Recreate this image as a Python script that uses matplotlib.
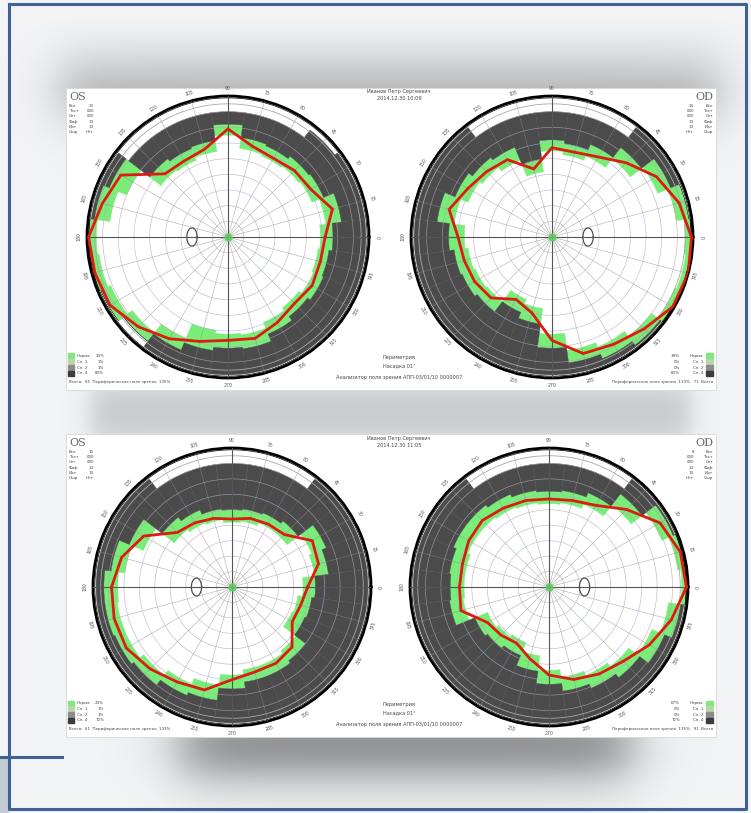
import numpy as np
import matplotlib
matplotlib.use("Agg")
import matplotlib.pyplot as plt
from matplotlib.patches import Rectangle

W, H, DPI = 751, 813, 100

# ---------------- data (radius in degrees of visual field, meridians every 15 deg) ----------------
meridians = np.arange(0, 360, 15)

# chart 1: OS, 2014.12.30 10:09
os1_red   = [62, 69, 61, 60, 58, 60, 69, 58, 56, 57, 79, 83, 89, 88, 87, 81, 75, 69, 66, 67, 63, 60, 62, 61]
os1_g_in  = [59, 63, 58, 57, 56, 57, 65, 55, 53, 54, 70, 76, 84, 83, 81, 77, 70, 60, 62, 63, 59, 57, 59, 58]
os1_g_out = [67, 73, 66, 65, 63, 64, 72, 62, 61, 63, 82, 86, 89, 89, 88, 84, 78, 73, 71, 72, 67, 64, 66, 65]
os1_d_out = [88, 88, 88, 86, 80, 80, 80, 80, 80, 80, 88, 88, 89, 89, 88, 84, 88, 88, 88, 88, 88, 88, 88, 88]

# chart 2: OD, 2014.12.30 10:09
od1_red   = [89, 84, 77, 67, 59, 56, 57, 45, 57, 59, 62, 68, 60, 58, 57, 55, 46, 50, 66, 77, 79, 83, 89, 90]
od1_g_in  = [85, 80, 73, 63, 56, 53, 55, 42, 53, 56, 58, 63, 56, 54, 53, 52, 43, 46, 62, 73, 76, 80, 85, 86]
od1_g_out = [89, 88, 82, 72, 64, 60, 62, 50, 62, 64, 67, 74, 66, 63, 62, 60, 52, 56, 71, 81, 84, 87, 89, 89]
od1_d_out = [89, 88, 88, 88, 80, 80, 80, 80, 80, 88, 88, 88, 88, 88, 88, 88, 88, 88, 88, 88, 88, 88, 89, 89]

# chart 3: OS, 2014.12.30 11:05
os2_red   = [49, 58, 60, 48, 47, 46, 44, 46, 48, 50, 66, 74, 78, 79, 79, 75, 71, 69, 60, 57, 57, 55, 45, 46]
os2_g_in  = [46, 54, 56, 45, 45, 43, 42, 44, 45, 47, 62, 70, 74, 75, 75, 72, 68, 64, 57, 54, 54, 52, 42, 43]
os2_g_out = [54, 63, 66, 54, 52, 51, 50, 51, 54, 57, 72, 79, 83, 83, 82, 80, 76, 74, 66, 62, 62, 60, 51, 52]
os2_d_out = [88, 88, 88, 88, 80, 80, 80, 80, 80, 88, 88, 88, 88, 88, 88, 88, 88, 88, 88, 88, 88, 88, 88, 88]

# chart 4: OD, 2014.12.30 11:05
od2_red   = [89, 88, 83, 71, 61, 58, 57, 58, 59, 61, 60, 58, 58, 59, 46, 44, 42, 48, 57, 62, 65, 68, 75, 82]
od2_g_in  = [86, 84, 79, 67, 58, 55, 54, 55, 56, 57, 57, 55, 55, 56, 43, 41, 39, 45, 54, 59, 62, 65, 72, 78]
od2_g_out = [89, 89, 87, 76, 66, 63, 62, 63, 65, 67, 67, 65, 64, 65, 52, 50, 48, 55, 63, 68, 71, 74, 81, 86]
od2_d_out = [89, 89, 88, 88, 80, 80, 80, 80, 80, 88, 88, 88, 88, 88, 88, 88, 88, 88, 88, 88, 88, 88, 88, 88]

blind_os = (180, 23)   # (meridian, eccentricity)
blind_od = (0, 23)

patient = "Иванов Петр Сергеевич"
dates = ["2014.12.30 10:09", "2014.12.30 11:05"]
stat_names = ["Все", "Тест", "Сет", "Фиф", "Идт", "Ошр"]
stats_os = [["13", "000", "000", "13", "13", "Нет"], ["10", "000", "000", "13", "13", "Нет"]]
stats_od = [["14", "000", "000", "13", "13", "Нет"], ["8", "000", "000", "13", "13", "Нет"]]
legend_names = ["Норма", "Сн. 1", "Сн. 2", "Сн. 4"]
legend_os = [["10%", "1%", "1%", "80%"], ["23%", "1%", "1%", "72%"]]
legend_od = [["39%", "0%", "0%", "60%"], ["67%", "0%", "0%", "72%"]]
total_os = [("65", "135%"), ("61", "133%")]
total_od = [("71", "133%"), ("91", "135%")]
bottom_lines = ["Периметрия", "Насадка 01°", "Анализатор поля зрения АПП-03/01/10 0000007"]

# ---------------- styles ----------------
DARK = "#4b4b4b"
GREEN = "#78ee78"
RED = "#dd1b10"
LEG_COLORS = ["#7fe87f", "#b9d6a8", "#8c8c8c", "#3c3c3c"]
FONT = ["DejaVu Sans"]
TINY = 3.3

fig = plt.figure(figsize=(W / DPI, H / DPI), dpi=DPI)
bg = fig.add_axes([0, 0, 1, 1])
bg.set_xlim(0, W)
bg.set_ylim(H, 0)
bg.axis("off")

# background with soft shadows
yy, xx = np.mgrid[0:H, 0:W].astype(float)


def soft(x0, x1, y0, y1, b):
    sx = 0.25 * (np.tanh((xx - x0) / b) + 1) * (np.tanh((x1 - xx) / b) + 1)
    sy = 0.25 * (np.tanh((yy - y0) / b) + 1) * (np.tanh((y1 - yy) / b) + 1)
    return sx * sy


shade = (0.955
         - 0.24 * soft(60, 720, 20, 120, 28) * np.clip((yy - 12) / 76, 0, 1) ** 1.5
         - 0.16 * soft(90, 690, 385, 440, 14)
         - 0.55 * soft(180, 630, 720, 768, 32))
img = np.dstack([shade * 0.995, shade, shade * 1.01])
bg.imshow(np.clip(img, 0, 1), extent=(0, W, H, 0), aspect="auto", zorder=0)

# outer frame
bg.add_patch(Rectangle((0, 758), 8, 55, color="#c4cad1", zorder=1))
bg.plot([9, 746, 746, 9, 9], [4, 4, 809, 809, 4], color="#3f6293", lw=2.2, zorder=2)
bg.plot([0, 62], [757, 757], color="#3f6293", lw=2.2, zorder=2)

panels = [(66, 88, 650, 302), (66, 434, 650, 303)]
for (px, py, pw, ph) in panels:
    bg.add_patch(Rectangle((px, py), pw, ph, facecolor="white", edgecolor="#d8d8d8", lw=0.6, zorder=3))

charts = [
    dict(cx=228, cy=237, R=141, red=os1_red, gi=os1_g_in, go=os1_g_out, do=os1_d_out, blind=blind_os),
    dict(cx=552, cy=237, R=141, red=od1_red, gi=od1_g_in, go=od1_g_out, do=od1_d_out, blind=blind_od),
    dict(cx=232, cy=587, R=139, red=os2_red, gi=os2_g_in, go=os2_g_out, do=os2_d_out, blind=blind_os),
    dict(cx=549, cy=587, R=139, red=od2_red, gi=od2_g_in, go=od2_g_out, do=od2_d_out, blind=blind_od),
]

th = np.deg2rad(meridians)
width = np.deg2rad(15)
circ = np.linspace(0, 2 * np.pi, 361)

for c in charts:
    l = (c["cx"] - c["R"]) / W
    b = (H - c["cy"] - c["R"]) / H
    ax = fig.add_axes([l, b, 2 * c["R"] / W, 2 * c["R"] / H], projection="polar")
    ax.set_facecolor("white")
    ax.set_ylim(0, 90)
    ax.set_xticks(th)
    ax.set_xticklabels([])
    ax.set_yticks([])
    ax.set_axisbelow(False)
    ax.xaxis.grid(True, color="#8c8c8c", lw=0.4, alpha=0.7)
    ax.spines["polar"].set_linewidth(2.0)
    ax.spines["polar"].set_color("black")

    gi = np.array(c["gi"]); go = np.array(c["go"]); do = np.array(c["do"])
    ax.bar(th, go - gi, width=width, bottom=gi, color=GREEN, edgecolor=GREEN, lw=0.3, zorder=1.5)
    ax.bar(th, do - go, width=width, bottom=go, color=DARK, edgecolor=DARK, lw=0.3, zorder=1.6)

    for rr in range(10, 90, 10):
        col = "#9fb6d6" if rr in (30, 60) else "#b9a2b4"
        ax.plot(circ, np.full_like(circ, rr), color=col, lw=0.45, alpha=0.8, zorder=2.6)
    ax.plot(circ, np.full_like(circ, 85), color="#a8a8a8", lw=0.6, zorder=2.6)
    ax.plot(circ, np.full_like(circ, 88.8), color="black", lw=0.5, zorder=2.6)

    for a in (0, 90, 180, 270):
        ax.plot([np.deg2rad(a)] * 2, [0, 90], color="#555555", lw=0.8, zorder=2.8)

    red = list(c["red"]) + [c["red"][0]]
    ax.plot(list(th) + [th[0]], red, color=RED, lw=2.0, zorder=5, solid_joinstyle="miter")

    # blind spot
    bm, br = c["blind"]
    t = np.linspace(0, 2 * np.pi, 80)
    ex = br * np.cos(np.deg2rad(bm)) + 3.3 * np.cos(t)
    ey = 5.8 * np.sin(t)
    ax.plot(np.arctan2(ey, ex), np.hypot(ex, ey), color="#505050", lw=0.9, zorder=4)
    ax.plot([0], [0], "o", color="#5fcf5f", ms=5, alpha=0.8, zorder=4)

    for d in meridians:
        rot = d - 90 if d <= 180 else d - 270
        ax.text(np.deg2rad(d), 95, str(d), fontsize=TINY, color="#555555", rotation=rot,
                ha="center", va="center", family=FONT, clip_on=False)

# ---------------- panel texts ----------------
for i, (px, py, pw, ph) in enumerate(panels):
    cxm = px + pw / 2 + 8
    kw = dict(fontsize=TINY + 0.3, color="#444444", family=FONT, ha="center", va="center", zorder=10)
    bg.text(cxm, py + 4, patient, **kw)
    bg.text(cxm, py + 11, dates[i], **kw)
    bot = py + ph
    bg.text(cxm, bot - 33, bottom_lines[0], **kw)
    bg.text(cxm, bot - 24, bottom_lines[1], **kw)
    bg.text(cxm, bot - 13, bottom_lines[2], **kw)

    bg.text(px + 3, py + 9, "OS", fontsize=8, color="#666666", family=["DejaVu Serif"], va="center", zorder=10)
    bg.text(px + pw - 3, py + 9, "OD", fontsize=8, color="#666666", family=["DejaVu Serif"],
            va="center", ha="right", zorder=10)
    for k, nm in enumerate(stat_names):
        yk = py + 18 + k * 5.2
        bg.text(px + 3, yk, nm, fontsize=TINY - 0.4, color="#444", family=FONT, va="center", zorder=10)
        bg.text(px + 28, yk, stats_os[i][k], fontsize=TINY - 0.4, color="#444", family=FONT,
                va="center", ha="right", zorder=10)
        bg.text(px + pw - 22, yk, stats_od[i][k], fontsize=TINY - 0.4, color="#444", family=FONT,
                va="center", ha="right", zorder=10)
        bg.text(px + pw - 3, yk, nm, fontsize=TINY - 0.4, color="#444", family=FONT,
                va="center", ha="right", zorder=10)

    for k, nm in enumerate(legend_names):
        yk = bot - 34 + k * 5.8
        bg.add_patch(Rectangle((px + 2, yk - 2.5), 6, 5, color=LEG_COLORS[k], zorder=10))
        bg.text(px + 11, yk, nm, fontsize=TINY - 0.4, color="#444", family=FONT, va="center", zorder=10)
        bg.text(px + 38, yk, legend_os[i][k], fontsize=TINY - 0.4, color="#444", family=FONT,
                va="center", ha="right", zorder=10)
        bg.add_patch(Rectangle((px + pw - 10, yk - 2.5), 7, 5, color=LEG_COLORS[k], zorder=10))
        bg.text(px + pw - 13, yk, nm, fontsize=TINY - 0.4, color="#444", family=FONT,
                va="center", ha="right", zorder=10)
        bg.text(px + pw - 36, yk, legend_os[i][k] if False else legend_od[i][k], fontsize=TINY - 0.4,
                color="#444", family=FONT, va="center", ha="right", zorder=10)
    bg.text(px + 3, bot - 8, "Всего:  " + total_os[i][0] + "  Периферическое поле зрения  " + total_os[i][1],
            fontsize=TINY - 0.4, color="#444", family=FONT, va="center", zorder=10)
    bg.text(px + pw - 3, bot - 8, "Периферическое поле зрения  " + total_od[i][1] + "   " + total_od[i][0] + "  Всего",
            fontsize=TINY - 0.4, color="#444", family=FONT, va="center", ha="right", zorder=10)

fig.savefig("out.png", dpi=DPI)
